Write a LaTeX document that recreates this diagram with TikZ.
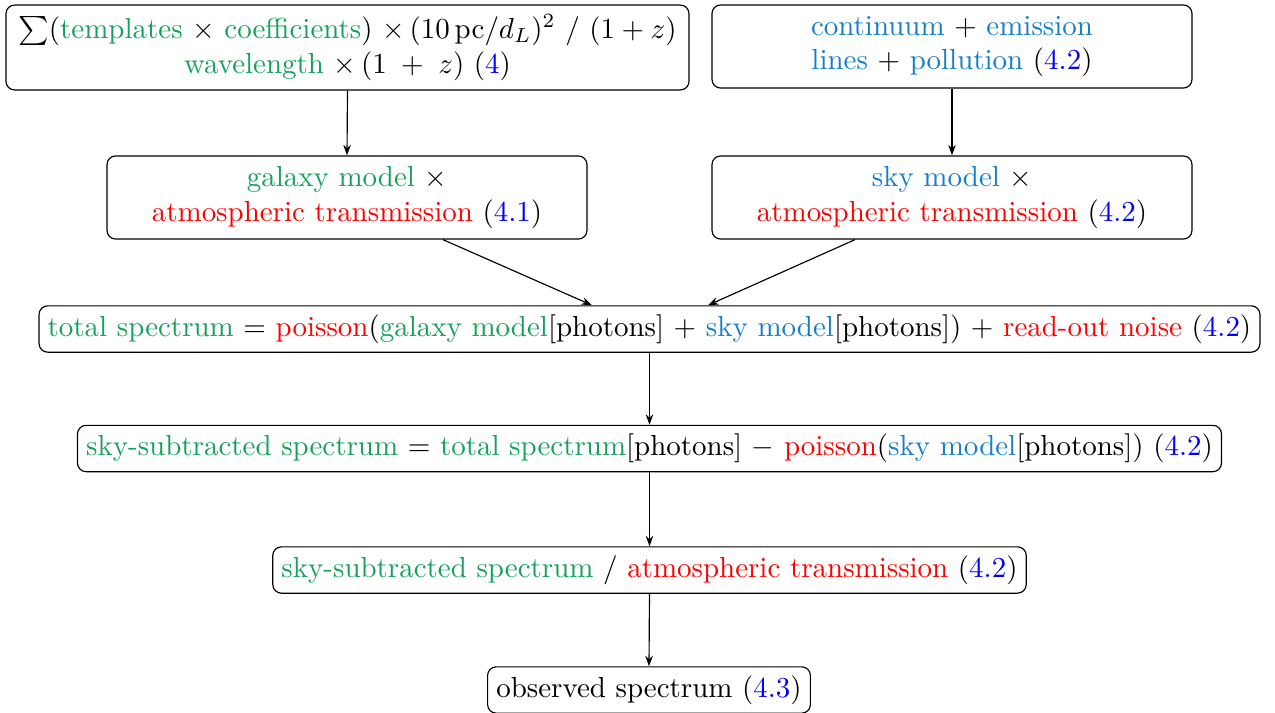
\documentclass[tikz,border=0pt]{standalone}
\usetikzlibrary{arrows.meta,calc}
\definecolor{gal}{RGB}{22,160,90}
\definecolor{sky}{RGB}{22,125,200}
\definecolor{ref}{RGB}{0,0,255}
\definecolor{atm}{RGB}{255,0,0}
\newcommand{\cgal}[1]{\textcolor{gal}{#1}}
\newcommand{\csky}[1]{\textcolor{sky}{#1}}
\newcommand{\catm}[1]{\textcolor{atm}{#1}}
\newcommand{\cref}[1]{\textcolor{ref}{#1}}
\begin{document}
\begin{tikzpicture}[x=0.3452pt,y=-0.3452pt,
  box/.style={draw,rounded corners=3pt,align=center,inner xsep=3pt,inner ysep=3pt,line width=0.4pt},
  wide/.style={minimum width=165.7pt,minimum height=28.7pt},
  arr/.style={-{Stealth[length=3.6pt,width=2.6pt]},line width=0.4pt}]
\useasboundingbox (0,0) rectangle (1275,713);
\node[box,minimum width=235.8pt,minimum height=29.3pt] (A) at (347.5,47.5)
  {$\sum$(\cgal{templates} $\times$ \cgal{coefficients}) $\times\,(10\,\mathrm{pc}/d_L)^2\ /\ (1+z)$\\
   \cgal{wavelength} $\times\,(1\;+\;z)$ (\cref{4})};
\node[box,wide] (B) at (952,46.5)
  {\csky{continuum} $+$ \csky{emission}\\ \csky{lines} $+$ \csky{pollution} (\cref{4.2})};
\node[box,wide] (C) at (347,197.5)
  {\cgal{galaxy model} $\times$\\ \catm{atmospheric transmission} (\cref{4.1})};
\node[box,wide] (D) at (952,197.5)
  {\csky{sky model} $\times$\\ \catm{atmospheric transmission} (\cref{4.2})};
\node[box] (E) at (649.5,329)
  {\cgal{total spectrum} $=$ \catm{poisson}(\cgal{galaxy model}[photons] $+$ \csky{sky model}[photons]) $+$ \catm{read-out noise} (\cref{4.2})};
\node[box] (F) at (649.5,448.5)
  {\cgal{sky-subtracted spectrum} $=$ \cgal{total spectrum}[photons] $-$ \catm{poisson}(\csky{sky model}[photons]) (\cref{4.2})};
\node[box] (G) at (649.5,570)
  {\cgal{sky-subtracted spectrum} / \catm{atmospheric transmission} (\cref{4.2})};
\node[box] (H) at (649,690)
  {observed spectrum (\cref{4.3})};
\draw[arr] (A.south) -- (C.north);
\draw[arr] (B.south) -- (D.north);
\draw[arr] ($(C.south)+(96,0)$) -- ($(E.north)+(-57.5,0)$);
\draw[arr] ($(D.south)+(-97,0)$) -- ($(E.north)+(58.5,0)$);
\draw[arr] (E.south) -- (F.north);
\draw[arr] (F.south) -- (G.north);
\draw[arr] (G.south) -- (H.north);
\end{tikzpicture}
\end{document}
